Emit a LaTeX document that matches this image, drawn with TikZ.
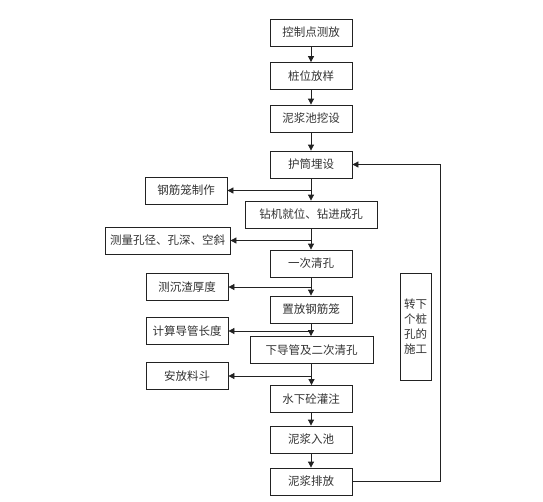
\documentclass[tikz,border=0pt]{standalone}
\usepackage{fontspec}
\setmainfont{Noto Sans CJK SC}
\usetikzlibrary{arrows.meta, positioning, calc}
\definecolor{pfInk}{HTML}{222222}
\definecolor{pfText}{HTML}{333333}
\tikzset{
  stepbox/.style={
    draw=pfInk, line width=0.8pt, fill=white, inner sep=2pt,
    align=center, text=pfText, font=\fontsize{11.5}{15}\selectfont,
    minimum width=82pt, minimum height=27pt
  },
  sidebox/.style={stepbox},
  flow/.style={-{Triangle[length=6pt, width=6pt]}, line width=0.8pt, draw=pfInk},
  link/.style={line width=0.8pt, draw=pfInk},
}

\begin{document}
\begin{tikzpicture}[x=1pt, y=-1pt]
  \useasboundingbox (0,0) rectangle (543,501);
  % main column
  \node[stepbox] (ctrl)  at (311,32.5)  {控制点测放};
  \node[stepbox] (pile)  at (311,76)    {桩位放样};
  \node[stepbox] (pit)   at (311,118.5) {泥浆池挖设};
  \node[stepbox] (casing) at (311,164.5) {护筒埋设};
  \node[stepbox, minimum width=132pt] (drill) at (311,214.5) {钻机就位、钻进成孔};
  \node[stepbox] (clean) at (311,263.5) {一次清孔};
  \node[stepbox] (cage)  at (311,309.5) {置放钢筋笼};
  \node[stepbox, minimum width=123pt] (tube) at (311.5,350) {下导管及二次清孔};
  \node[stepbox] (pour)  at (311,399)   {水下砼灌注};
  \node[stepbox] (slurry) at (311,439.5) {泥浆入池};
  \node[stepbox] (drain) at (311,481.5) {泥浆排放};
  % side tasks
  \node[sidebox] (make)  at (186,190.5) {钢筋笼制作};
  \node[sidebox, minimum width=125pt] (meas) at (167.5,240.5) {测量孔径、孔深、空斜};
  \node[sidebox] (sed)   at (187,287)   {测沉渣厚度};
  \node[sidebox] (len)   at (187,331)   {计算导管长度};
  \node[sidebox] (hopper) at (187,376)  {安放料斗};
  \node[stepbox, minimum width=31pt, minimum height=107pt, inner sep=1pt] (next) at (415.5,326.5) {转下\\个桩\\孔的\\施工};
  \coordinate (ret) at (440,0);

  \draw[flow] (ctrl) -- (pile);
  \draw[flow] (pile) -- (pit);
  \draw[flow] (pit) -- (casing);
  \draw[flow] (casing) -- (drill);
  \draw[flow] (drill.south) -- (drill.south |- clean.north);
  \draw[flow] (clean) -- (cage);
  \draw[flow] (cage.south) -- (cage.south |- tube.north);
  \draw[flow] (tube.south) -- (tube.south |- pour.north);
  \draw[flow] (pour) -- (slurry);
  \draw[flow] (slurry) -- (drain);

  \draw[flow] (casing.south |- make.east) -- (make.east);
  \draw[flow] (drill.south |- meas.east) -- (meas.east);
  \draw[flow] (clean.south |- sed.east) -- (sed.east);
  \draw[flow] (cage.south |- len.east) -- (len.east);
  \draw[flow] (tube.south |- hopper.east) -- (hopper.east);

  \draw[flow] (drain.east) -- (drain.east -| ret) |- (casing.east);
\end{tikzpicture}
\end{document}
